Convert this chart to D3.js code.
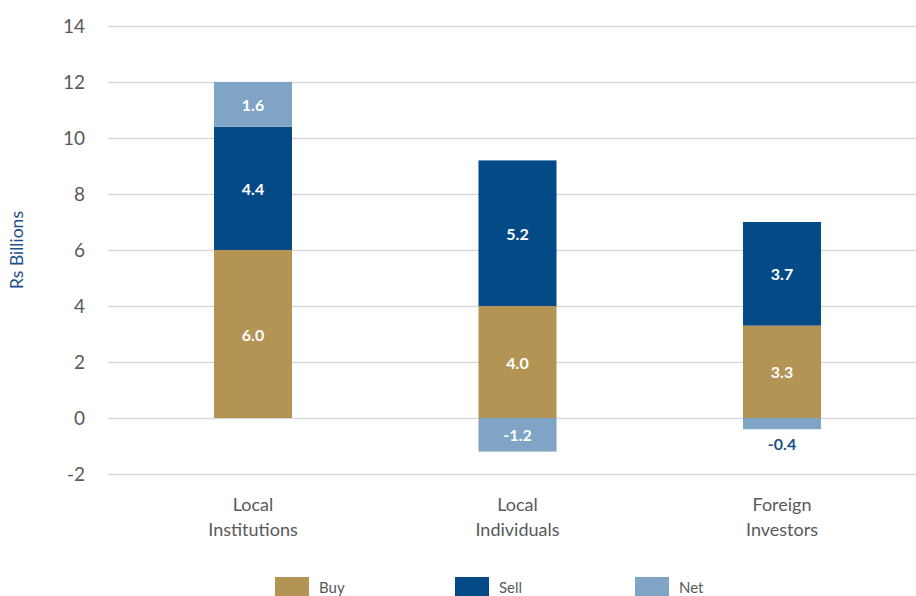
<!DOCTYPE html>
<html>
<head>
<meta charset="utf-8">
<script src="https://cdn.jsdelivr.net/npm/d3@7/dist/d3.min.js"></script>
<style>
  html, body { margin: 0; padding: 0; background: #ffffff; }
  svg { display: block; font-family: Lato, "Noto Sans", sans-serif; }
</style>
</head>
<body>
<svg id="chart" width="916" height="596"></svg>
<script>
// Trading activity by investor type, Rs billions
const categories = [["Local", "Institutions"], ["Local", "Individuals"], ["Foreign", "Investors"]];
const seriesKeys = ["Buy", "Sell", "Net"];
const buyValues  = [6.0, 4.0, 3.3];
const sellValues = [4.4, 5.2, 3.7];
const netValues  = [1.6, -1.2, -0.4];
const yTicks = [-2, 0, 2, 4, 6, 8, 10, 12, 14];
const yTitle = "Rs Billions";

const colors = { Buy: "#b49455", Sell: "#044a87", Net: "#7fa4c6" };

// plain hyphen for negatives
const fmtTick = d => String(d);
const fmtValue = d => d.toFixed(1);

const rows = categories.map((c, i) => ({
  key: c.join(" "), lines: c, Buy: buyValues[i], Sell: sellValues[i], Net: netValues[i]
}));

const svg = d3.select("#chart");

const x = d3.scaleBand()
  .domain(rows.map(d => d.key))
  .range([120.75, 914.25])
  .paddingInner(0.705)
  .paddingOuter(0.3525);

const y = d3.scaleLinear().domain([-2, 14]).range([474, 26]);

// gridlines + tick labels
const yAxis = d3.axisLeft(y).tickValues(yTicks).tickSize(-808).tickPadding(23).tickFormat(fmtTick);
const gAxis = svg.append("g").attr("transform", "translate(108,0)").call(yAxis);
gAxis.select(".domain").remove();
gAxis.selectAll(".tick line").attr("stroke", "#d9d9d9").attr("stroke-width", 1.3);
gAxis.selectAll(".tick text")
  .attr("fill", "#595959").attr("font-size", 19).attr("font-family", "Lato, sans-serif");

// axis title
svg.append("text")
  .attr("transform", "translate(23,250) rotate(-90)")
  .attr("text-anchor", "middle")
  .attr("fill", "#1f4f8a")
  .attr("font-size", 17.5)
  .text(yTitle);

// stacked bars, negatives below zero
const stack = d3.stack().keys(seriesKeys).offset(d3.stackOffsetDiverging);
const layers = stack(rows);

const gBars = svg.append("g");
layers.forEach(layer => {
  const key = layer.key;
  gBars.selectAll(null)
    .data(layer)
    .join("rect")
    .attr("x", d => x(d.data.key))
    .attr("width", x.bandwidth())
    .attr("y", d => y(Math.max(d[0], d[1])))
    .attr("height", d => Math.abs(y(d[0]) - y(d[1])))
    .attr("fill", colors[key]);

  gBars.selectAll(null)
    .data(layer)
    .join("text")
    .each(function(d) {
      const h = Math.abs(y(d[0]) - y(d[1]));
      const inside = h >= 18;
      const mid = (y(d[0]) + y(d[1])) / 2;
      d3.select(this)
        .attr("x", x(d.data.key) + x.bandwidth() / 2)
        .attr("y", inside ? mid : y(Math.min(d[0], d[1])) + 14)
        .attr("fill", inside ? "#ffffff" : "#1f4f8a");
    })
    .attr("text-anchor", "middle")
    .attr("dominant-baseline", "central")
    .attr("font-size", 16)
    .attr("font-weight", 700)
    .text(d => fmtValue(d.data[key]));
});

// category labels
const gCat = svg.append("g");
rows.forEach(r => {
  const t = gCat.append("text")
    .attr("x", x(r.key) + x.bandwidth() / 2)
    .attr("text-anchor", "middle")
    .attr("fill", "#595959")
    .attr("font-size", 18);
  r.lines.forEach((ln, i) => {
    t.append("tspan").attr("x", x(r.key) + x.bandwidth() / 2).attr("y", 511 + i * 25).text(ln);
  });
});

// legend
const legendX = [275, 455, 635];
const gLeg = svg.append("g");
seriesKeys.forEach((k, i) => {
  gLeg.append("rect").attr("x", legendX[i]).attr("y", 577).attr("width", 34).attr("height", 22).attr("fill", colors[k]);
  gLeg.append("text").attr("x", legendX[i] + 44).attr("y", 593)
    .attr("fill", "#595959").attr("font-size", 15).text(k);
});
</script>
</body>
</html>
